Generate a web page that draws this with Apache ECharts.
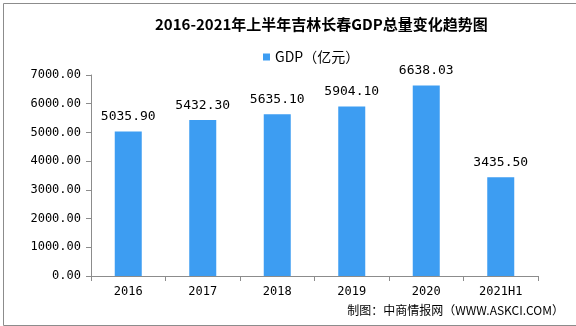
<!DOCTYPE html>
<html>
<head>
<meta charset="utf-8">
<script src="https://cdn.jsdelivr.net/npm/echarts@6/dist/echarts.min.js"></script>
<style>
  html, body { margin: 0; padding: 0; background: #fff; }
  #chart { width: 576px; height: 326px; }
</style>
</head>
<body>
<div id="chart"></div>
<script>
// 长春 GDP（亿元），2016—2021年上半年
const categories = ['2016', '2017', '2018', '2019', '2020', '2021H1'];
const gdpValues = [5035.90, 5432.30, 5635.10, 5904.10, 6638.03, 3435.50];
const yTicks = { min: 0, max: 7000, interval: 1000 };

const numFont = '"DejaVu Sans Mono", "Noto Sans CJK SC", monospace';
const cjkFont = '"Noto Sans CJK SC", sans-serif';

const chart = echarts.init(document.getElementById('chart'), null, { renderer: 'canvas' });
chart.setOption({
  animation: false,
  backgroundColor: '#fff',
  title: {
    text: '2016-2021年上半年吉林长春GDP总量变化趋势图',
    left: 150,
    top: 12,
    textStyle: { fontFamily: cjkFont, fontSize: 15, fontWeight: 'bold', color: '#000' }
  },
  legend: {
    data: ['GDP（亿元）'],
    top: 45,
    left: 258,
    itemWidth: 7,
    itemHeight: 7,
    itemGap: 4,
    icon: 'rect',
    textStyle: { fontFamily: cjkFont, fontSize: 14, color: '#000' }
  },
  grid: { left: 91, right: 38, top: 75, bottom: 50, containLabel: false },
  xAxis: {
    type: 'category',
    data: categories,
    axisLine: { lineStyle: { color: '#8c8c8c' } },
    axisTick: { show: true, length: 5, lineStyle: { color: '#8c8c8c' } },
    axisLabel: { fontFamily: numFont, fontSize: 12, color: '#000', margin: 10 }
  },
  yAxis: {
    type: 'value',
    min: yTicks.min,
    max: yTicks.max,
    interval: yTicks.interval,
    axisLine: { show: true, lineStyle: { color: '#8c8c8c' } },
    axisTick: { show: true, length: 5, lineStyle: { color: '#8c8c8c' } },
    splitLine: { show: false },
    axisLabel: {
      fontFamily: numFont, fontSize: 12, color: '#000', margin: 10,
      formatter: v => v.toFixed(2)
    }
  },
  series: [{
    name: 'GDP（亿元）',
    type: 'bar',
    data: gdpValues,
    barWidth: 27,
    itemStyle: { color: '#3d9df2' },
    label: {
      show: true,
      position: 'top',
      distance: 8,
      fontFamily: numFont,
      fontSize: 13,
      color: '#000',
      formatter: p => p.value.toFixed(2)
    }
  }],
  graphic: [
    {
      type: 'rect',
      left: 1, top: 1,
      shape: { width: 573, height: 322 },
      style: { fill: 'none', stroke: '#8c8c8c', lineWidth: 1 },
      silent: true
    },
    {
      type: 'text',
      right: 12, top: 304,
      style: {
        text: '制图：中商情报网（WWW.ASKCI.COM）',
        fontFamily: cjkFont, fontSize: 12, fill: '#000'
      }
    }
  ]
});
</script>
</body>
</html>
